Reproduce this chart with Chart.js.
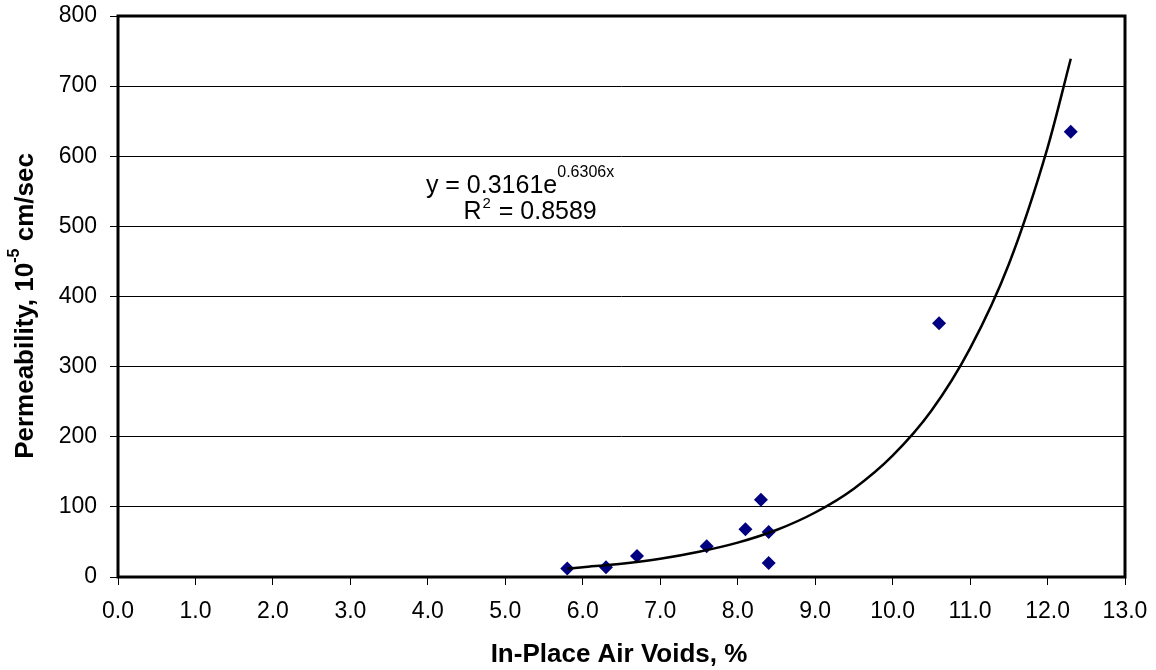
<!DOCTYPE html>
<html>
<head>
<meta charset="utf-8">
<script src="https://cdn.jsdelivr.net/npm/chart.js@4"></script>
<style>
  html, body { margin: 0; padding: 0; background: #fff; }
  .wrap { width: 1156px; height: 670px; position: relative; }
</style>
</head>
<body>
<div class="wrap"><canvas id="chart" width="1156" height="670"></canvas></div>
<script>
// measured points (air voids %, permeability 1e-5 cm/sec)
const airVoids = [5.8, 6.3, 6.7, 7.6, 8.1, 8.3, 8.4, 8.4, 10.6, 12.3];
const permeability = [12, 14, 30, 44, 68, 110, 64, 20, 362, 635];

// trendline
const trendX = [5.8, 6.0, 6.5, 7.0, 7.5, 8.0, 8.5, 9.0, 9.5, 10.0, 10.5, 11.0, 11.5, 12.0, 12.3];
const trendY = [12, 14, 19, 26, 36, 49, 67, 92, 126, 173, 237, 326, 446, 612, 739];

const xTicks = [0, 1, 2, 3, 4, 5, 6, 7, 8, 9, 10, 11, 12, 13];
const yTicks = [0, 100, 200, 300, 400, 500, 600, 700, 800];

const FONT = "'Liberation Sans', Arial, sans-serif";

const frame = {
    id: 'frame',
    afterDatasetsDraw(chart) {
        const { ctx, chartArea: a } = chart;
        ctx.save();
        ctx.strokeStyle = '#000';
        ctx.lineWidth = 3;
        ctx.strokeRect(a.left, a.top, a.right - a.left, a.bottom - a.top);
        ctx.restore();
    },
    afterDraw(chart) {
        const { ctx, scales } = chart;
        ctx.save();
        ctx.fillStyle = '#000';

        // equation label
        const ex1 = scales.x.getPixelForValue(5.19);
        const ex2 = scales.x.getPixelForValue(5.32);
        const ey1 = scales.y.getPixelForValue(557);
        const ey2 = scales.y.getPixelForValue(520);
        ctx.textBaseline = 'middle';
        ctx.font = '25px ' + FONT;
        let t1 = 'y = 0.3161e';
        let w1 = ctx.measureText(t1).width;
        ctx.font = '16px ' + FONT;
        let s1 = '0.6306x';
        let ws1 = ctx.measureText(s1).width;
        let x0 = ex1 - (w1 + ws1) / 2;
        ctx.font = '25px ' + FONT;
        ctx.textAlign = 'left';
        ctx.fillText(t1, x0, ey1);
        ctx.font = '16px ' + FONT;
        ctx.fillText(s1, x0 + w1, ey1 - 14);

        ctx.font = '25px ' + FONT;
        let r = 'R';
        let wr = ctx.measureText(r).width;
        let rest = ' = 0.8589';
        let wrest = ctx.measureText(rest).width;
        ctx.font = '15px ' + FONT;
        let w2 = ctx.measureText('2').width + 2;
        x0 = ex2 - (wr + w2 + wrest) / 2;
        ctx.font = '25px ' + FONT;
        ctx.fillText(r, x0, ey2);
        ctx.fillText(rest, x0 + wr + w2, ey2);
        ctx.font = '15px ' + FONT;
        ctx.fillText('2', x0 + wr + 1, ey2 - 8);

        // x title
        ctx.font = 'bold 26px ' + FONT;
        ctx.textAlign = 'center';
        ctx.fillText('In-Place Air Voids, %', 619, 655);

        // y title with superscript
        ctx.translate(26, 306);
        ctx.rotate(-Math.PI / 2);
        ctx.textAlign = 'left';
        ctx.font = 'bold 26px ' + FONT;
        const p1 = 'Permeability, 10';
        const p2 = ' cm/sec';
        const wp1 = ctx.measureText(p1).width;
        const wp2 = ctx.measureText(p2).width;
        ctx.font = 'bold 16px ' + FONT;
        const sup = '-5';
        const wsup = ctx.measureText(sup).width;
        const start = -(wp1 + wsup + wp2) / 2;
        ctx.font = 'bold 26px ' + FONT;
        ctx.fillText(p1, start, 0);
        ctx.fillText(p2, start + wp1 + wsup, 0);
        ctx.font = 'bold 16px ' + FONT;
        ctx.fillText(sup, start + wp1, -11);
        ctx.restore();
    }
};

new Chart(document.getElementById('chart'), {
    type: 'scatter',
    data: {
        datasets: [
            {
                label: 'Permeability',
                data: airVoids.map((v, i) => ({ x: v, y: permeability[i] })),
                pointStyle: 'rectRot',
                pointRadius: 7,
                backgroundColor: '#000080',
                borderColor: '#000080',
                borderWidth: 0,
                order: 2,
            },
            {
                label: 'Trend',
                data: trendX.map((v, i) => ({ x: v, y: trendY[i] })),
                showLine: true,
                borderColor: '#000',
                borderWidth: 2.5,
                pointRadius: 0,
                cubicInterpolationMode: 'monotone',
                order: 1,
            },
        ],
    },
    options: {
        responsive: false,
        animation: false,
        layout: { padding: { top: 16, right: 31, left: 48, bottom: 45 } },
        plugins: {
            legend: { display: false },
            tooltip: { enabled: false },
        },
        scales: {
            x: {
                type: 'linear',
                min: 0,
                max: 13,
                afterBuildTicks: (s) => { s.ticks = xTicks.map(v => ({ value: v })); },
                afterFit: (s) => { s.height = 48; s.paddingLeft = 0; s.paddingRight = 0; },
                ticks: {
                    color: '#000',
                    font: { family: FONT, size: 23 },
                    padding: 13,
                    maxRotation: 0,
                    callback: (v) => Number(v).toFixed(1),
                },
                grid: {
                    drawOnChartArea: false,
                    color: '#000',
                    tickLength: 8,
                    tickWidth: 1,
                },
                border: { display: false },
            },
            y: {
                min: 0,
                max: 800,
                afterBuildTicks: (s) => { s.ticks = yTicks.map(v => ({ value: v })); },
                afterFit: (s) => { s.width = 70; s.paddingTop = 0; s.paddingBottom = 0; },
                ticks: {
                    color: '#000',
                    font: { family: FONT, size: 23 },
                    padding: 13,
                },
                grid: {
                    color: '#000',
                    lineWidth: 1,
                    tickLength: 8,
                },
                border: { display: false },
            },
        },
    },
    plugins: [frame],
});
</script>
</body>
</html>
